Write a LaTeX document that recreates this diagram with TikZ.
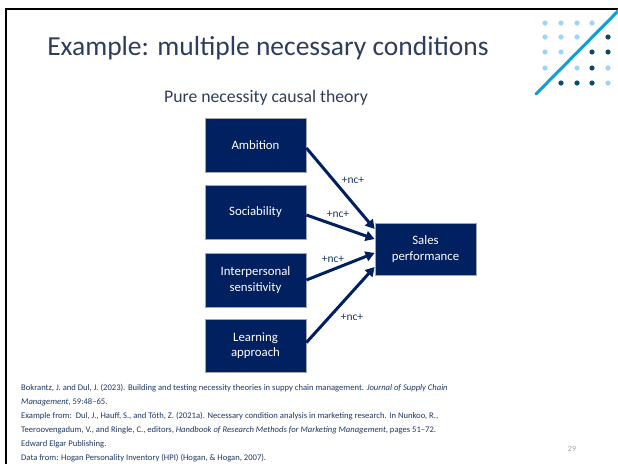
\documentclass[tikz,border=0pt]{standalone}
\usepackage{fontspec}
\setmainfont{Carlito}
\usetikzlibrary{arrows.meta,calc}
\definecolor{navy}{HTML}{002060}
\definecolor{titlec}{HTML}{2E3D5C}
\definecolor{refc}{HTML}{1F3864}
\definecolor{lightdot}{HTML}{9DD5F5}
\definecolor{darkdot}{HTML}{0B4A6B}
\definecolor{slash}{HTML}{0AA0DC}
\tikzset{
  varbox/.style={draw=gray!70, line width=0.8pt, fill=navy, text=white, minimum width=101pt, minimum height=54pt, align=center, font=\fontsize{12.8}{15.5}\selectfont, inner sep=0pt},
  nclink/.style={draw=navy, line width=3pt, -{Triangle[length=9pt,width=10pt]}},
  nclabel/.style={text=refc, font=\fontsize{11.5}{13}\selectfont, inner sep=0pt},
  ldot/.style={fill=lightdot, draw=none},
  ddot/.style={fill=darkdot, draw=none},
  reftext/.style={text=refc, font=\fontsize{8.6}{10}\selectfont, anchor=west, inner sep=0pt}
}
\begin{document}
\begin{tikzpicture}[x=1pt,y=-1pt]
\useasboundingbox (0,0) rectangle (618,463);
\fill[white] (0,0) rectangle (618,463);
% frame
\draw[black, line width=2.2pt] (6,470) -- (6,9) -- (625,9);
% title
\node[text=titlec, font=\fontsize{27.5}{32}\selectfont, inner sep=0pt] (title) at (268,48) {Example: multiple necessary conditions};
\node[text=titlec, font=\fontsize{17.7}{21}\selectfont, inner sep=0pt] (subtitle) at (266,98) {Pure necessity causal theory};
% decoration
\foreach \x/\y in {545/23,561/23,577/23,592/23, 545/37,561/37,577/37, 545/52,561/52, 545/68,577/68,608/68, 608/83}
  \fill[ldot] (\x,\y) circle (2.6);
\foreach \x/\y in {608/37, 592/52,608/52, 592/68, 561/83,577/83,592/83}
  \fill[ddot] (\x,\y) circle (2.6);
\draw[slash, line width=3pt, line cap=round] (536,94) -- (622,7);
% boxes
\node[varbox] (amb) at (255.5,145.5) {Ambition};
\node[varbox] (soc) at (255.5,212.5) {Sociability};
\node[varbox] (inter) at (255.5,280) {Interpersonal\\sensitivity};
\node[varbox, minimum height=53pt] (learn) at (255.5,345.5) {Learning\\approach};
\node[varbox, minimum height=52pt] (sales) at (425.5,249) {Sales\\performance};
% arrows
\draw[nclink] ([yshift=-2.5pt]amb.east) -- ([yshift=20pt]sales.west);
\draw[nclink] ([yshift=-2.5pt]soc.east) -- ([yshift=10pt]sales.west);
\draw[nclink] (inter.east) -- ([yshift=-4pt]sales.west);
\draw[nclink] ([yshift=3pt]learn.east) -- ([yshift=-18pt]sales.west);
% labels
\node[nclabel] (l1) at (353,180) {+nc+};
\node[nclabel] (l2) at (338,214) {+nc+};
\node[nclabel] (l3) at (333,259) {+nc+};
\node[nclabel] (l4) at (352,317) {+nc+};
% references
\node[reftext] (r1) at (21,388) {Bokrantz, J. and Dul, J. (2023). Building and testing necessity theories in suppy chain management. \textit{Journal of Supply Chain}};
\node[reftext] (r2) at (21,402) {\textit{Management}, 59:48–65.};
\node[reftext] (r3) at (21,416) {Example from:\ \ Dul, J., Hauff, S., and Tóth, Z. (2021a). Necessary condition analysis in marketing research. In Nunkoo, R.,};
\node[reftext] (r4) at (21,430) {Teeroovengadum, V., and Ringle, C., editors, \textit{Handbook of Research Methods for Marketing Management}, pages 51–72.};
\node[reftext] (r5) at (21,444) {Edward Elgar Publishing.};
\node[reftext] (r6) at (21,458) {Data from: Hogan Personality Inventory (HPI) (Hogan, \& Hogan, 2007).};
\node[text=gray!70, font=\fontsize{8}{10}\selectfont, inner sep=0pt] (page) at (572,449) {29};
\end{tikzpicture}
\end{document}
